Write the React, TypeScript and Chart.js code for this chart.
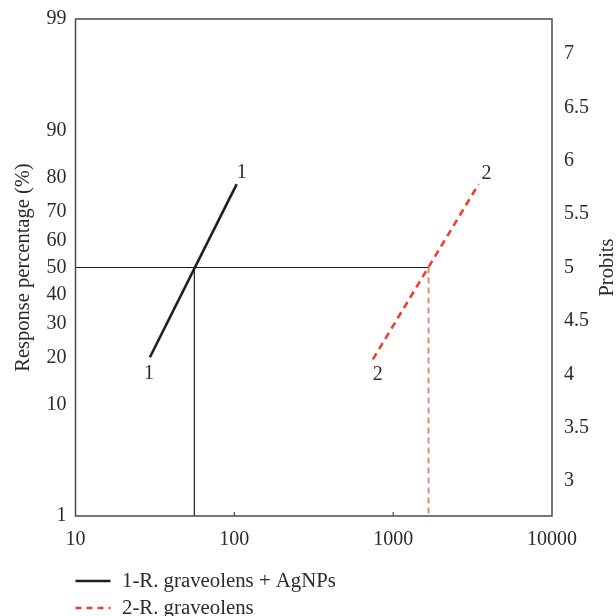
import { useEffect, useRef } from 'react';
import { Chart, registerables, type ChartConfiguration, type Plugin } from 'chart.js';

Chart.register(...registerables);

// series (dose on log axis, response in probits)
const seriesLabels = ['1-R. graveolens + AgNPs', '2-R. graveolens'];
const seriesMarks = ['1', '2'];
const dose1 = [29.4, 103.5];
const probit1 = [4.16, 5.78];
const dose2 = [745, 3450];
const probit2 = [4.14, 5.78];
const lc50 = [56, 1670];

const doseTicks = [10, 100, 1000, 10000];
const percentTicks = [1, 10, 20, 30, 40, 50, 60, 70, 80, 90, 99];
const probitTicks = [3, 3.5, 4, 4.5, 5, 5.5, 6, 6.5, 7];

const FONT = "'Liberation Serif', 'Times New Roman', serif";
const TEXT = '#2b2b2b';
const BLACK = '#1e1e1e';
const RED = '#ee3f2d';
const RED_LIGHT = '#f27a6b';

// percentage -> probit (inverse normal cdf + 5), Acklam's approximation
function probit(pct: number): number {
  const p = pct / 100;
  const a = [-39.69683028665376, 220.9460984245205, -275.9285104469687, 138.357751867269, -30.66479806614716, 2.506628277459239];
  const b = [-54.47609879822406, 161.5858368580409, -155.6989798598866, 66.80131188771972, -13.28068155288572];
  const c = [-0.007784894002430293, -0.3223964580411365, -2.400758277161838, -2.549732539343734, 4.374664141464968, 2.938163982698783];
  const d = [0.007784695709041462, 0.3224671290700398, 2.445134137142996, 3.754408661907416];
  const pl = 0.02425;
  let z: number;
  if (p < pl) {
    const q = Math.sqrt(-2 * Math.log(p));
    z = (((((c[0] * q + c[1]) * q + c[2]) * q + c[3]) * q + c[4]) * q + c[5]) / ((((d[0] * q + d[1]) * q + d[2]) * q + d[3]) * q + 1);
  } else if (p <= 1 - pl) {
    const q = p - 0.5;
    const r = q * q;
    z = ((((((a[0] * r + a[1]) * r + a[2]) * r + a[3]) * r + a[4]) * r + a[5]) * q) / (((((b[0] * r + b[1]) * r + b[2]) * r + b[3]) * r + b[4]) * r + 1);
  } else {
    const q = Math.sqrt(-2 * Math.log(1 - p));
    z = -(((((c[0] * q + c[1]) * q + c[2]) * q + c[3]) * q + c[4]) * q + c[5]) / ((((d[0] * q + d[1]) * q + d[2]) * q + d[3]) * q + 1);
  }
  return 5 + z;
}

const yMin = probit(percentTicks[0]);
const yMax = probit(percentTicks[percentTicks.length - 1]);

export default function App() {
  const canvasRef = useRef<HTMLCanvasElement>(null);

  useEffect(() => {
    const canvas = canvasRef.current;
    if (!canvas) return;

    const decor: Plugin = {
      id: 'decor',
      afterDraw(c) {
        const area = c.chartArea;
        const ctx = c.ctx;
        const xs = c.scales.x;
        const ys = c.scales.y;
        ctx.save();
        // frame
        ctx.strokeStyle = '#4a4a4a';
        ctx.lineWidth = 1.5;
        ctx.strokeRect(area.left, area.top, area.right - area.left, area.bottom - area.top);
        // small inward ticks on the dose axis
        ctx.lineWidth = 1.2;
        doseTicks.slice(1, -1).forEach((v) => {
          const px = xs.getPixelForValue(v);
          ctx.beginPath();
          ctx.moveTo(px, area.bottom);
          ctx.lineTo(px, area.bottom - 4);
          ctx.stroke();
        });

        ctx.fillStyle = TEXT;
        ctx.font = `20px ${FONT}`;
        ctx.textAlign = 'center';
        ctx.textBaseline = 'middle';
        // series number marks at line ends
        const ends = [
          { d: dose1, p: probit1, off: [[-1, 17], [5, -11]] },
          { d: dose2, p: probit2, off: [[5, 15], [8, -10]] },
        ];
        ends.forEach((s, i) => {
          [0, s.d.length - 1].forEach((k, j) => {
            const px = xs.getPixelForValue(s.d[k]) + s.off[j][0];
            const py = ys.getPixelForValue(s.p[k]) + s.off[j][1];
            ctx.fillText(seriesMarks[i], px, py);
          });
        });

        // right axis title, reading upward
        ctx.save();
        ctx.font = `20.5px ${FONT}`;
        ctx.translate(608, (area.top + area.bottom) / 2);
        ctx.rotate(-Math.PI / 2);
        ctx.fillText('Probits', 0, 0);
        ctx.restore();

        // legend
        const styles = [
          { color: BLACK, dash: [] as number[], width: 2.6 },
          { color: RED, dash: [6, 5], width: 2.6 },
        ];
        ctx.font = `20.8px ${FONT}`;
        seriesLabels.forEach((label, i) => {
          const y = area.bottom + 65 + i * 27;
          ctx.strokeStyle = styles[i].color;
          ctx.lineWidth = styles[i].width;
          ctx.setLineDash(styles[i].dash);
          ctx.beginPath();
          ctx.moveTo(area.left, y);
          ctx.lineTo(area.left + 35, y);
          ctx.stroke();
          ctx.setLineDash([]);
          ctx.textAlign = 'left';
          ctx.fillText(label, area.left + 46.5, y + 1);
        });
        ctx.restore();
      },
    };

    const tickFont = { family: FONT, size: 20 };
    const noGrid = { display: false, drawTicks: false, tickLength: 0 };

    const config: ChartConfiguration<'line'> = {
      type: 'line',
      data: {
        datasets: [
          {
            label: seriesLabels[0],
            data: dose1.map((x, i) => ({ x, y: probit1[i] })),
            borderColor: BLACK,
            borderWidth: 2.6,
            pointRadius: 0,
            order: 0,
          },
          {
            label: seriesLabels[1],
            data: dose2.map((x, i) => ({ x, y: probit2[i] })),
            borderColor: RED,
            borderWidth: 2.6,
            borderDash: [7, 5],
            pointRadius: 0,
            order: 1,
          },
          {
            label: '50% guide',
            data: [
              { x: doseTicks[0], y: 5 },
              { x: lc50[1], y: 5 },
            ],
            borderColor: BLACK,
            borderWidth: 1.2,
            pointRadius: 0,
            order: 3,
          },
          {
            label: 'LC50 1',
            data: [
              { x: lc50[0], y: 5 },
              { x: lc50[0], y: yMin },
            ],
            borderColor: BLACK,
            borderWidth: 1.2,
            pointRadius: 0,
            order: 3,
          },
          {
            label: 'LC50 2',
            data: [
              { x: lc50[1], y: 5 },
              { x: lc50[1], y: yMin },
            ],
            borderColor: RED_LIGHT,
            borderWidth: 1.8,
            borderDash: [6, 4],
            pointRadius: 0,
            order: 2,
          },
        ],
      },
      options: {
        responsive: true,
        maintainAspectRatio: false,
        animation: false,
        layout: { padding: { top: 19, bottom: 60, left: 0, right: 0 } },
        plugins: {
          legend: { display: false },
          tooltip: { enabled: false },
        },
        scales: {
          x: {
            type: 'logarithmic',
            position: 'bottom',
            min: 10,
            max: 10000,
            grid: noGrid,
            border: { display: false },
            afterBuildTicks: (s) => {
              s.ticks = doseTicks.map((v) => ({ value: v }));
            },
            afterFit: (s) => {
              s.height = 40;
            },
            ticks: {
              font: tickFont,
              color: TEXT,
              padding: 12,
              maxRotation: 0,
              autoSkip: false,
              callback: (v) => String(v),
            },
          },
          y: {
            type: 'linear',
            position: 'left',
            min: yMin,
            max: yMax,
            grid: noGrid,
            border: { display: false },
            afterBuildTicks: (s) => {
              s.ticks = percentTicks.map((p) => ({ value: probit(p) }));
            },
            afterFit: (s) => {
              s.width = 75.5;
              s.paddingTop = 0;
              s.paddingBottom = 0;
            },
            ticks: {
              font: tickFont,
              color: TEXT,
              padding: 9,
              autoSkip: false,
              callback: (_v, i) => String(percentTicks[i]),
            },
            title: {
              display: true,
              text: 'Response percentage (%)',
              font: { family: FONT, size: 20.5 },
              color: TEXT,
              padding: { top: 11, bottom: 0 },
            },
          },
          y2: {
            type: 'linear',
            position: 'right',
            min: yMin,
            max: yMax,
            grid: noGrid,
            border: { display: false },
            afterBuildTicks: (s) => {
              s.ticks = probitTicks.map((v) => ({ value: v }));
            },
            afterFit: (s) => {
              s.width = 64;
              s.paddingTop = 0;
              s.paddingBottom = 0;
            },
            ticks: {
              font: tickFont,
              color: TEXT,
              padding: 12,
              autoSkip: false,
              callback: (v) => String(v),
            },
          },
        },
      },
      plugins: [decor],
    };

    const chart = new Chart(canvas, config);
    return () => {
      chart.destroy();
    };
  }, []);

  return (
    <div style={{ position: 'fixed', left: 0, top: 0, width: 616, height: 616, background: '#fff' }}>
      <canvas ref={canvasRef} />
    </div>
  );
}
